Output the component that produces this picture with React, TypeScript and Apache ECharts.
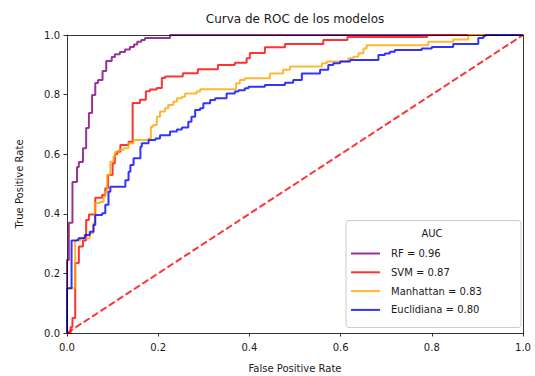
import React, { useEffect, useRef } from "react";
import * as echarts from "echarts";

const modelNames = ["RF", "SVM", "Manhattan", "Euclidiana"];
const aucValues = [0.96, 0.87, 0.83, 0.8];
const lineColors = [
  "rgba(128,0,128,0.8)",
  "rgba(255,0,0,0.8)",
  "rgba(255,165,0,0.8)",
  "rgba(0,0,255,0.8)",
];
const tickLabels = ["0.0", "0.2", "0.4", "0.6", "0.8", "1.0"];

const fprRF = [0, 0, 0.004, 0.012, 0.022, 0.026, 0.035, 0.042, 0.048, 0.055, 0.062, 0.068, 0.078, 0.086, 0.098, 0.105, 0.116, 0.127, 0.138, 0.147, 0.154, 0.163, 0.171, 0.226, 1.0];
const tprRF = [0, 0.245, 0.37, 0.507, 0.557, 0.574, 0.62, 0.688, 0.738, 0.799, 0.839, 0.849, 0.879, 0.913, 0.926, 0.935, 0.943, 0.951, 0.96, 0.968, 0.977, 0.983, 0.99, 1.0, 1.0];

const fprSVM = [0, 0.008, 0.012, 0.018, 0.026, 0.035, 0.042, 0.048, 0.062, 0.077, 0.084, 0.09, 0.1, 0.105, 0.11, 0.117, 0.135, 0.144, 0.16, 0.173, 0.182, 0.197, 0.208, 0.215, 0.254, 0.287, 0.331, 0.368, 0.394, 0.401, 0.434, 0.478, 0.562, 0.615, 0.79, 1.0];
const tprSVM = [0, 0.02, 0.05, 0.235, 0.29, 0.31, 0.379, 0.398, 0.454, 0.463, 0.486, 0.53, 0.57, 0.6, 0.608, 0.631, 0.642, 0.772, 0.783, 0.811, 0.817, 0.822, 0.856, 0.861, 0.872, 0.885, 0.899, 0.907, 0.922, 0.94, 0.959, 0.97, 0.983, 0.993, 1.0, 1.0];

const fprMan = [0, 0, 0.018, 0.029, 0.05, 0.058, 0.061, 0.072, 0.08, 0.084, 0.088, 0.095, 0.102, 0.106, 0.113, 0.124, 0.135, 0.146, 0.179, 0.184, 0.189, 0.197, 0.204, 0.215, 0.222, 0.233, 0.241, 0.252, 0.259, 0.284, 0.292, 0.371, 0.379, 0.39, 0.445, 0.474, 0.489, 0.559, 0.57, 0.617, 0.628, 0.639, 0.65, 0.657, 0.792, 0.847, 0.88, 1.0];
const tprMan = [0, 0.15, 0.31, 0.318, 0.335, 0.369, 0.436, 0.44, 0.457, 0.474, 0.53, 0.575, 0.592, 0.608, 0.614, 0.62, 0.637, 0.648, 0.653, 0.692, 0.698, 0.726, 0.743, 0.754, 0.765, 0.776, 0.788, 0.793, 0.804, 0.81, 0.818, 0.838, 0.849, 0.855, 0.871, 0.883, 0.894, 0.905, 0.911, 0.922, 0.927, 0.939, 0.955, 0.966, 0.977, 0.985, 1.0, 1.0];

const fprEuc = [0, 0, 0.01, 0.018, 0.025, 0.039, 0.05, 0.058, 0.062, 0.077, 0.084, 0.091, 0.095, 0.128, 0.135, 0.139, 0.146, 0.161, 0.164, 0.179, 0.194, 0.204, 0.226, 0.241, 0.252, 0.266, 0.273, 0.281, 0.292, 0.299, 0.314, 0.325, 0.35, 0.368, 0.376, 0.39, 0.398, 0.434, 0.478, 0.496, 0.515, 0.555, 0.573, 0.584, 0.599, 0.621, 0.683, 0.697, 0.708, 0.719, 0.778, 0.8, 0.847, 0.902, 0.913, 0.917, 1.0];
const tprEuc = [0, 0.15, 0.31, 0.312, 0.318, 0.329, 0.34, 0.362, 0.396, 0.402, 0.43, 0.474, 0.491, 0.513, 0.541, 0.564, 0.586, 0.625, 0.637, 0.648, 0.653, 0.664, 0.676, 0.683, 0.69, 0.709, 0.726, 0.748, 0.754, 0.771, 0.782, 0.788, 0.804, 0.81, 0.815, 0.821, 0.826, 0.832, 0.84, 0.849, 0.871, 0.883, 0.899, 0.905, 0.911, 0.916, 0.933, 0.938, 0.944, 0.95, 0.955, 0.96, 0.97, 0.99, 0.996, 1.0, 1.0];

const diagX = [0, 1];
const diagY = [0, 1];

const FONT = "DejaVu Sans";
const TXT = "#1a1a1a";

function pairs(xs: number[], ys: number[]) {
  return xs.map((x, i) => [x, ys[i]]);
}

export default function App() {
  const ref = useRef<HTMLDivElement>(null);
  useEffect(() => {
    if (!ref.current) return;
    const chart = echarts.init(ref.current, null, { renderer: "svg" });
    const curves = [pairs(fprRF, tprRF), pairs(fprSVM, tprSVM), pairs(fprMan, tprMan), pairs(fprEuc, tprEuc)];
    const names = modelNames.map((m, i) => `${m} = ${aucValues[i].toFixed(2)}`);
    const lineSeries = curves.map((d, i) => ({
      type: "line",
      name: names[i],
      data: d,
      step: "end",
      symbol: "none",
      showSymbol: false,
      color: lineColors[i],
      lineStyle: { width: 2, color: lineColors[i] },
      z: 2,
    }));
    const labelFmt = (v: number) => tickLabels[Math.round(v * 5)] ?? v.toFixed(1);
    const baseAxis = {
      type: "value",
      min: 0,
      max: 1,
      interval: 0.2,
      z: 3,
      splitLine: { show: false },
      axisLine: { show: true, lineStyle: { color: "#000", width: 0.8 } },
      axisTick: { show: true, inside: false, length: 3.5, lineStyle: { color: "#000", width: 0.8 } },
    };
    const frameAxis = {
      type: "value",
      min: 0,
      max: 1,
      z: 3,
      splitLine: { show: false },
      axisLine: { show: true, onZero: false, lineStyle: { color: "#000", width: 0.8 } },
      axisTick: { show: false },
      axisLabel: { show: false },
    };
    chart.setOption({
      animation: false,
      backgroundColor: "#fff",
      title: {
        text: "Curva de ROC de los modelos",
        left: 295,
        top: 13,
        padding: 0,
        textAlign: "center",
        textStyle: { fontFamily: FONT, fontSize: 12, fontWeight: "normal", color: TXT },
      },
      grid: { left: 67, right: 12, top: 35, bottom: 43, outerBoundsMode: "none", containLabel: false },
      xAxis: [
        {
          ...baseAxis,
          position: "bottom",
          axisLabel: { color: TXT, fontFamily: FONT, fontSize: 10, margin: 9, formatter: labelFmt },
          name: "False Positive Rate",
          nameLocation: "middle",
          nameGap: 30,
          nameTextStyle: { fontFamily: FONT, fontSize: 10, color: TXT },
        },
        { ...frameAxis, position: "top" },
      ],
      yAxis: [
        {
          ...baseAxis,
          position: "left",
          axisLabel: { color: TXT, fontFamily: FONT, fontSize: 10, margin: 7, formatter: labelFmt },
          name: "True Positive Rate",
          nameLocation: "middle",
          nameGap: 43,
          nameTextStyle: { fontFamily: FONT, fontSize: 10, color: TXT },
        },
        { ...frameAxis, position: "right" },
      ],
      legend: {
        data: names,
        orient: "vertical",
        left: 350,
        top: 248.5,
        padding: 0,
        itemWidth: 29,
        itemHeight: 12,
        itemGap: 8.8,
        selectedMode: false,
        itemStyle: { opacity: 0 },
        lineStyle: { width: 2 },
        textStyle: { fontFamily: FONT, fontSize: 10, color: TXT, padding: [0, 0, 0, 6] },
        z: 6,
      },
      graphic: [
        {
          type: "rect",
          shape: { x: 346, y: 220.5, width: 175, height: 107, r: 3 },
          style: { fill: "rgba(255,255,255,0.8)", stroke: "#cccccc", lineWidth: 1 },
          z: 5,
        },
        {
          type: "text",
          x: 432,
          y: 233,
          style: {
            text: "AUC",
            fontFamily: FONT,
            fontSize: 10,
            fill: TXT,
            align: "center",
            verticalAlign: "middle",
          },
          z: 6,
        },
      ],
      series: [
        ...lineSeries,
        {
          type: "line",
          name: "diag",
          data: pairs(diagX, diagY),
          symbol: "none",
          showSymbol: false,
          lineStyle: { width: 2, color: "rgba(255,0,0,0.8)", type: [7, 3] },
          z: 2,
        },
      ],
    } as any);
    return () => chart.dispose();
  }, []);
  return <div ref={ref} style={{ position: "fixed", left: 0, top: 0, width: 535, height: 376 }} />;
}
